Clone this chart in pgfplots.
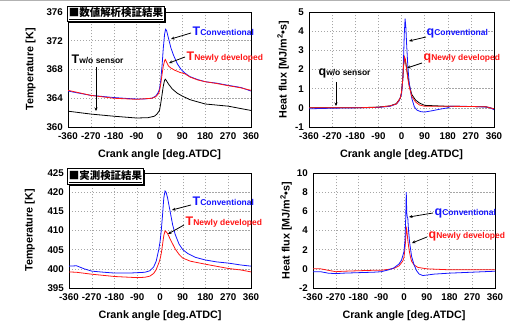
\documentclass[border=0pt]{standalone}
\usepackage{pgfplots}
\pgfplotsset{compat=1.18}
\usepackage{fontspec}
\setmainfont{Liberation Sans}
\newfontfamily\cjk{Noto Sans CJK JP}
\usetikzlibrary{shadows,arrows.meta}
\definecolor{cblue}{RGB}{20,20,255}
\definecolor{cred}{RGB}{255,20,20}
\pgfplotsset{
  panel/.style={
    scale only axis, width=183bp, height=115bp,
    xmin=-360, xmax=360, xtick={-360,-270,...,360},
    grid=major, major grid style={gray!70, dash pattern=on 1.5pt off 1.5pt, line width=0.5pt},
    axis line style={black, line width=0.9pt},
    major tick length=0pt,
    /pgf/number format/assume math mode=true,
    ticklabel style={font=\fontsize{9.8}{10}\selectfont\bfseries},
    xticklabel style={yshift=-4.5bp, inner sep=1pt},
    yticklabel style={xshift=-4bp, inner sep=1pt},
    label style={font=\fontsize{10.8}{11}\selectfont\bfseries},
    xlabel={Crank angle [deg.ATDC]},
    xlabel style={at={(axis description cs:0.5,-0.245)}, anchor=center},
    every axis plot/.append style={line width=0.8pt, no marks},
  }
}
\newcommand{\ann}[3]{{\fontsize{12.5}{12}\selectfont #1}{\fontsize{8.5}{8}\selectfont #2}}
\begin{document}
\begin{tikzpicture}
\path[use as bounding box] (0bp,0bp) rectangle (510bp,327bp);
\draw[gray!60, line width=1.3bp] (0bp,326.5bp) -- (510bp,326.5bp);

% Panel 1
\begin{axis}[panel, at={(68bp,200bp)}, anchor=south west,
  ymin=360, ymax=376, ytick={360,364,...,376},
  ylabel={Temperature [K]},
  ylabel style={at={(axis description cs:-0.205,0.5)}, anchor=center}]
\addplot[black] coordinates {(-360,362.2) (-270,361.8) (-180,361.5) (-90,361.25) (-45,361.3) (-20,361.5) (-10,361.8) (0,362.3) (5,363.3) (10,364.5) (15,365.7) (20,366.5) (23,366.65) (28,366.4) (35,366.0) (50,365.3) (70,364.7) (90,364.3) (120,363.8) (180,363.2) (270,362.9) (330,362.5) (360,362.3)};
\addplot[cblue] coordinates {(-360,365.0) (-300,364.6) (-270,364.4) (-180,364.1) (-120,363.95) (-90,363.9) (-60,363.9) (-30,364.0) (-15,364.3) (-5,364.8) (0,365.3) (5,366.5) (10,368.5) (15,371.0) (20,372.9) (24,373.6) (28,373.4) (35,372.4) (45,371.0) (55,370.0) (70,368.8) (85,368.0) (100,367.5) (120,367.0) (150,366.6) (180,366.3) (225,366.1) (270,365.8) (320,365.5) (360,365.0)};
\addplot[cred] coordinates {(-360,365.1) (-270,364.4) (-180,364.0) (-90,363.85) (-30,364.0) (-15,364.2) (-5,364.6) (0,365.0) (5,366.0) (10,367.3) (15,368.5) (20,369.2) (23,369.4) (28,369.0) (35,368.5) (45,368.2) (60,367.9) (80,367.6) (100,367.4) (120,366.95) (150,366.55) (180,366.3) (225,366.05) (270,365.75) (320,365.45) (360,365.1)};
\end{axis}

% Panel 2
\begin{axis}[panel, at={(309bp,200bp)}, anchor=south west, width=185bp,
  ymin=-1, ymax=5, ytick={-1,0,...,5},
  ylabel={Heat flux [MJ/m\textsuperscript{2}•s]},
  ylabel style={at={(axis description cs:-0.14,0.5)}, anchor=center}]
\addplot[black] coordinates {(-360,0.0) (-270,0.0) (-180,0.0) (-90,0.04) (-45,0.1) (-20,0.22) (-5,0.5) (0,0.8) (5,1.5) (8,2.2) (12,2.6) (15,2.5) (20,2.05) (25,1.6) (30,1.2) (40,0.7) (55,0.4) (70,0.25) (90,0.13) (180,0.08) (270,0.07) (330,0.05) (360,-0.05)};
\addplot[cblue] coordinates {(-360,-0.05) (-270,-0.02) (-180,0.0) (-90,0.02) (-45,0.08) (-20,0.2) (-10,0.35) (0,0.7) (5,1.5) (8,2.6) (11,3.9) (14,4.65) (17,4.2) (20,3.3) (25,2.1) (30,1.3) (40,0.5) (50,0.05) (60,-0.12) (75,-0.2) (90,-0.22) (120,-0.15) (150,-0.07) (180,0.0) (190,0.08) (240,0.08) (300,0.06) (340,0.03) (360,-0.1)};
\addplot[cred] coordinates {(-360,0.0) (-270,0.0) (-180,0.0) (-90,0.03) (-45,0.1) (-20,0.2) (-5,0.5) (0,0.8) (5,1.5) (8,2.2) (12,2.65) (15,2.5) (20,2.0) (25,1.5) (30,1.1) (40,0.6) (55,0.3) (70,0.15) (90,0.08) (180,0.08) (270,0.07) (330,0.05) (360,-0.05)};
\end{axis}

% Panel 3
\begin{axis}[panel, at={(69bp,39bp)}, anchor=south west, width=182bp,
  ymin=395, ymax=425, ytick={395,400,...,425},
  ylabel={Temperature [K]},
  ylabel style={at={(axis description cs:-0.215,0.5)}, anchor=center}]
\addplot[cblue] coordinates {(-360,400.7) (-330,400.8) (-300,400.0) (-270,399.4) (-220,399.1) (-180,398.9) (-120,398.9) (-90,399.0) (-60,399.1) (-40,399.5) (-25,400.5) (-15,402) (-5,405) (0,407) (5,410) (10,414) (15,418.5) (20,420.3) (24,420.0) (30,418.5) (40,415) (50,411.5) (60,409) (75,406.5) (90,405) (110,404) (140,403) (180,402.3) (225,401.8) (270,401.5) (320,401.0) (360,400.7)};
\addplot[cred] coordinates {(-360,399.2) (-330,399.1) (-270,398.6) (-180,398.0) (-120,397.8) (-90,397.7) (-60,397.8) (-40,398.1) (-25,398.8) (-15,399.8) (-5,401.5) (0,402.5) (5,404) (10,406.3) (15,408.7) (20,409.9) (25,409.6) (30,409.2) (40,407.8) (50,406.5) (60,405.2) (75,403.8) (90,402.8) (120,402) (180,401.2) (270,400.1) (320,399.7) (360,399.2)};
\end{axis}

% Panel 4
\begin{axis}[panel, at={(313bp,39bp)}, anchor=south west, width=182bp,
  ymin=-2, ymax=10, ytick={-2,0,...,10},
  ylabel={Heat flux [MJ/m\textsuperscript{2}•s]},
  ylabel style={at={(axis description cs:-0.148,0.5)}, anchor=center}]
\addplot[cred] coordinates {(-360,0.0) (-330,0.0) (-300,-0.15) (-270,-0.3) (-240,-0.25) (-180,-0.2) (-120,-0.15) (-90,-0.15) (-60,-0.05) (-40,0.05) (-20,0.3) (-5,0.8) (0,1.2) (5,2.5) (8,3.8) (10,4.2) (12,3.8) (15,3.0) (20,2.0) (25,1.3) (30,0.8) (40,0.4) (55,0.15) (90,0.0) (180,-0.1) (270,-0.1) (360,-0.1)};
\addplot[cblue] coordinates {(-360,-0.3) (-330,-0.3) (-300,-0.45) (-270,-0.5) (-240,-0.45) (-180,-0.4) (-120,-0.35) (-90,-0.3) (-60,-0.1) (-40,0.1) (-20,0.5) (-10,0.9) (0,1.8) (4,3) (7,5.5) (9,8.0) (11,5.8) (13,5.4) (15,5.3) (18,4.0) (22,2.8) (30,1.3) (40,0.4) (50,-0.2) (60,-0.55) (75,-0.7) (90,-0.65) (120,-0.55) (180,-0.45) (270,-0.35) (360,-0.25)};
\end{axis}

\begin{scope}[x=1bp,y=1bp]
% Boxes
\node[draw=black, line width=0.8pt, fill=white, inner sep=1.5pt, anchor=north west,
  drop shadow={shadow xshift=1.3pt, shadow yshift=-1.3pt, opacity=1, fill=black},
  font=\cjk\bfseries\fontsize{10.5}{11}\selectfont, minimum height=15bp] at (67,321) {\underline{■数値解析検証結果}};
\node[draw=black, line width=0.8pt, fill=white, inner sep=1.5pt, anchor=north west,
  drop shadow={shadow xshift=1.3pt, shadow yshift=-1.3pt, opacity=1, fill=black},
  font=\cjk\bfseries\fontsize{10.5}{11}\selectfont, minimum height=16bp] at (67,159) {\underline{■実測検証結果}};

% Annotations
\tikzset{ar/.style={-{Stealth[length=3.5pt,width=3pt]}, line width=0.8pt, black}}
\node[anchor=base west, inner sep=0, text=cblue, font=\bfseries] at (192.5,292) {\ann{T}{Conventional}{}};
\draw[ar] (191,294) -- (171,288);
\node[anchor=base west, inner sep=0, text=cred, font=\bfseries] at (186.5,267) {\ann{T}{Newly developed}{}};
\draw[ar] (185,270) -- (169,264);
\node[anchor=base west, inner sep=0, text=black, font=\bfseries] at (71.5,264) {\ann{T}{w/o sensor}{}};
\draw[ar] (96,260) -- (96,216);

\node[anchor=base west, inner sep=0, text=cblue, font=\bfseries] at (426.5,292) {\ann{q}{Conventional}{}};
\draw[ar] (426,290) -- (409,286);
\node[anchor=base west, inner sep=0, text=cred, font=\bfseries] at (423.5,267) {\ann{q}{Newly developed}{}};
\draw[ar] (422,264) -- (407,259);
\node[anchor=base west, inner sep=0, text=black, font=\bfseries] at (318.5,252) {\ann{q}{w/o sensor}{}};
\draw[ar] (336,245) -- (336,221);

\node[anchor=base west, inner sep=0, text=cblue, font=\bfseries] at (192.5,122) {\ann{T}{Conventional}{}};
\draw[ar] (191,122) -- (172,117);
\node[anchor=base west, inner sep=0, text=cred, font=\bfseries] at (185.5,102) {\ann{T}{Newly developed}{}};
\draw[ar] (184,102) -- (168,93);

\node[anchor=base west, inner sep=0, text=cblue, font=\bfseries] at (434.5,112) {\ann{q}{Conventional}{}};
\draw[ar] (433,114) -- (409,110);
\node[anchor=base west, inner sep=0, text=cred, font=\bfseries] at (428.5,89) {\ann{q}{Newly developed}{}};
\draw[ar] (427,90) -- (412,84);
\end{scope}
\end{tikzpicture}
\end{document}
